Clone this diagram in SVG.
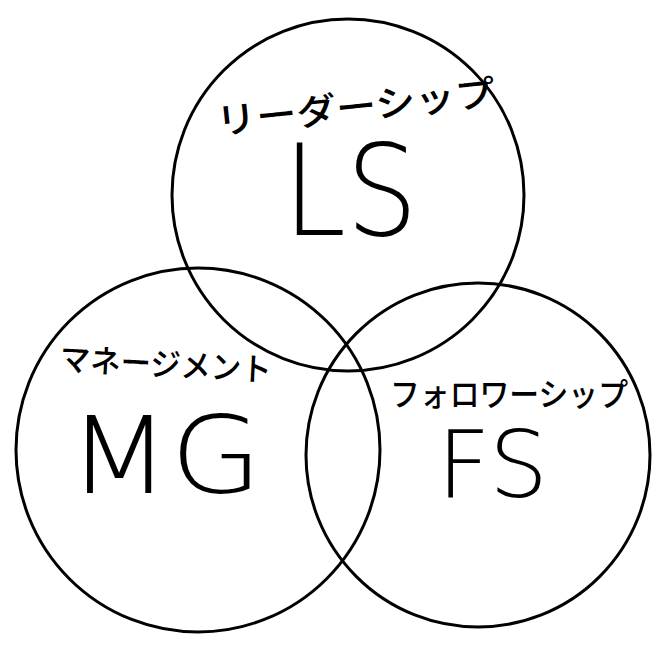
<svg xmlns="http://www.w3.org/2000/svg" width="658" height="645" viewBox="0 0 658 645">
<style>
.c{fill:none;stroke:#000;stroke-width:3}
.k{font-family:"Noto Sans CJK JP","Noto Sans",sans-serif;fill:#000;font-weight:500}
.b{font-family:"DejaVu Sans","Liberation Sans",sans-serif;font-weight:200;fill:#000}
</style>
<rect width="658" height="645" fill="#fff"/>
<g id="connectors"></g>
<g id="LS">
<circle class="c" cx="348" cy="195" r="176"/>
<text class="k" x="215" y="120" font-size="36" textLength="280" lengthAdjust="spacingAndGlyphs" transform="rotate(-6 355 100)">リーダーシップ</text>
<text class="b" x="283" y="235" font-size="126" textLength="135" lengthAdjust="spacingAndGlyphs">LS</text>
</g>
<g id="MG">
<circle class="c" cx="198" cy="450" r="182"/>
<text class="k" x="60" y="376" font-size="32" textLength="212" lengthAdjust="spacingAndGlyphs" transform="rotate(3 166 360)">マネージメント</text>
<text class="b" x="68" y="493" font-size="107" textLength="194" lengthAdjust="spacingAndGlyphs">MG</text>
</g>
<g id="FS">
<circle class="c" cx="478" cy="455" r="172"/>
<text class="k" x="390" y="406" font-size="32" textLength="238" lengthAdjust="spacingAndGlyphs">フォロワーシップ</text>
<text class="b" x="437" y="497" font-size="92" textLength="111" lengthAdjust="spacingAndGlyphs">FS</text>
</g>
</svg>
